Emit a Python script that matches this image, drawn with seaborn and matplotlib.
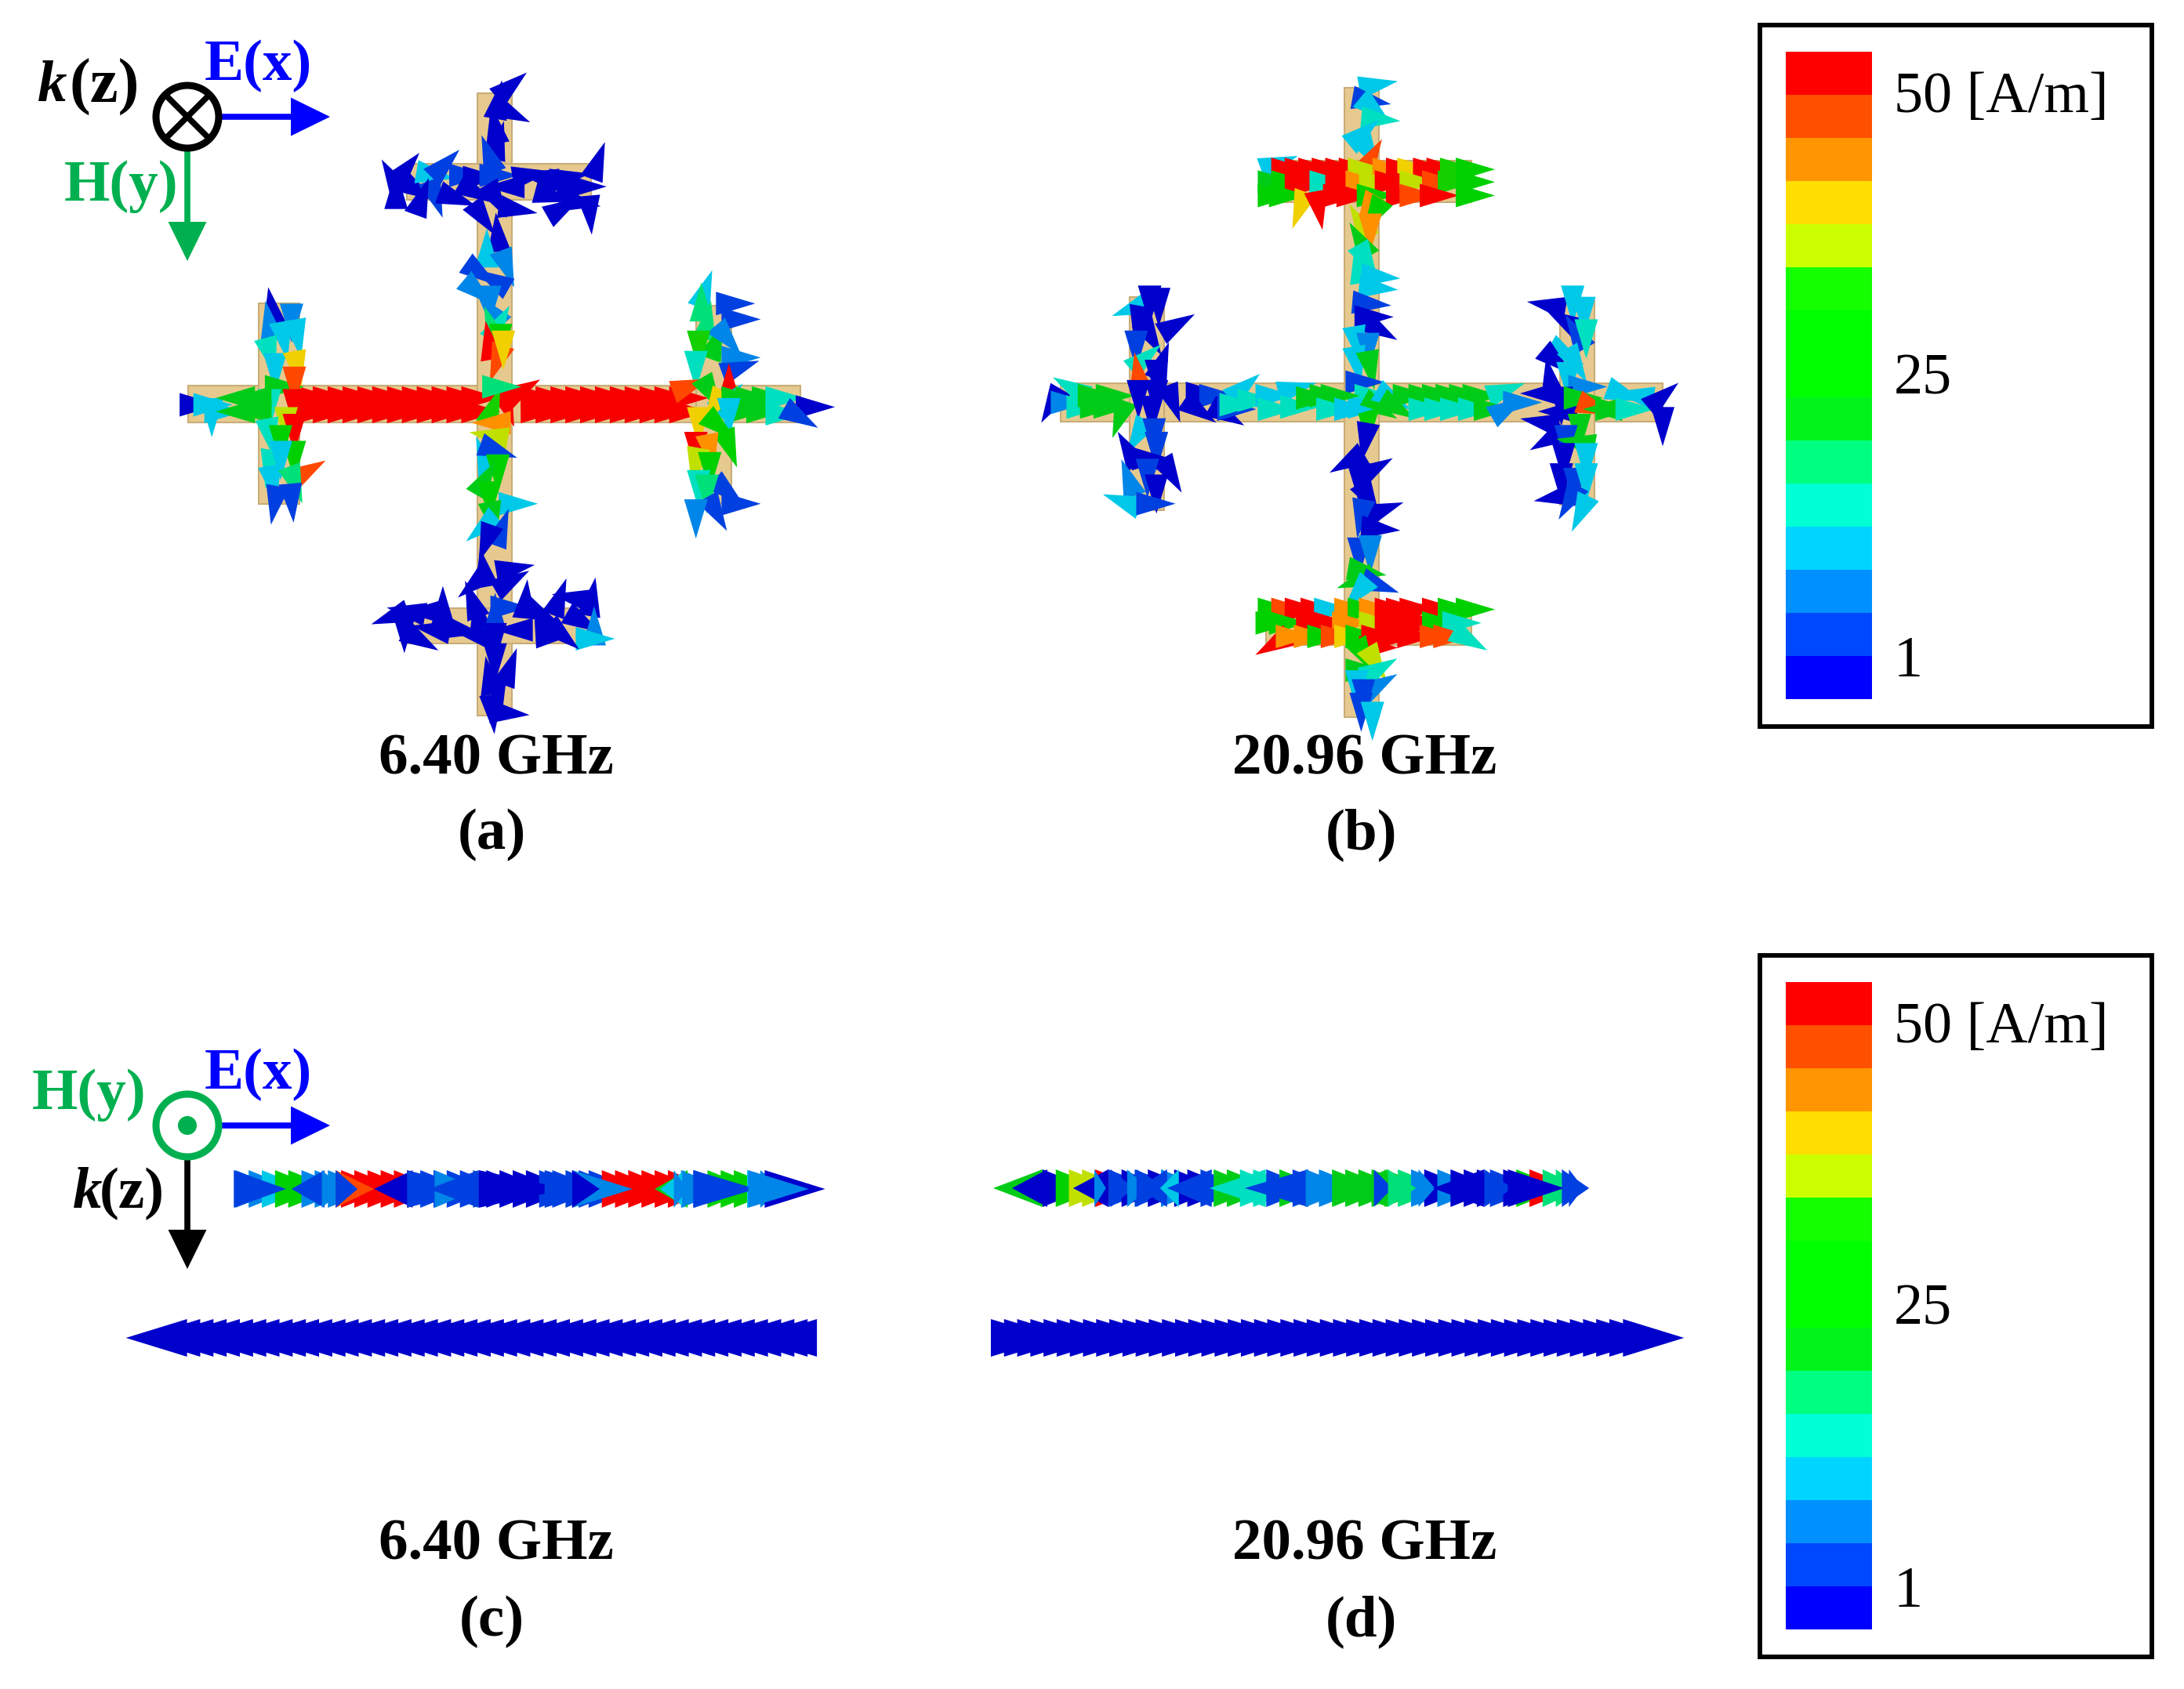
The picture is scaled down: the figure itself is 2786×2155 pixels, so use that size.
import numpy as np
import matplotlib
matplotlib.use("Agg")
import matplotlib.pyplot as plt
from matplotlib.collections import PolyCollection
from matplotlib.colors import ListedColormap, BoundaryNorm
from matplotlib.patches import Rectangle, Circle, Polygon
import seaborn as sns

sns.set_theme(style="white")
plt.rcParams["font.family"] = ["Liberation Serif", "DejaVu Serif"]

# ---------- colour scale (bottom to top) ----------
band_colors = ["#0000ff", "#0048ff", "#0090ff", "#00d5ff", "#00ffd5", "#00ff80", "#00f41a", "#00ff00",
               "#00ff00", "#14ff00", "#ccff00", "#ffdd00", "#ff9500", "#ff5000", "#ff0000"]
arrow_colors = ["#0000cc", "#0040e0", "#0085e8", "#00c8e8", "#00e0c0", "#00e078", "#00cc18", "#00d000",
                "#00d000", "#14d000", "#c0e000", "#f0d000", "#ff9000", "#ff4800", "#f80000"]
band_edges = [0, 3.33, 6.67, 10, 13.33, 16.67, 20, 23.33, 26.67, 30, 33.33, 36.67, 40, 43.33, 46.67, 50]
scale_values = list(range(14, -1, -1))
scale_labels = ["50 [A/m]", "25", "1"]

# ---------- metal cross outlines (x0, x1, y0, y1) ----------
cross_a = [(240, 1021, 492, 539), (609, 653, 119, 913), (519, 754, 209, 255),
           (512, 758, 776, 821), (330, 382, 387, 643), (888, 933, 390, 643)]
cross_b = [(1353, 2121, 489, 538), (1715, 1759, 112, 915), (1615, 1877, 205, 258),
           (1615, 1877, 771, 823), (1441, 1485, 379, 651), (1990, 2034, 384, 644)]

# ---------- panel (a): surface-current arrows ----------
a_row_x = [570, 597, 624, 651, 678, 705, 732, 759, 786, 813, 840, 867, 975, 1002, 1029, 1056, 1083, 1110, 1137, 1164, 1191, 1218, 1245]
a_row1_y = [815] * 23
a_row2_y = [845] * 23
a_x = [925, 905, 925, 900, 905, 890, 715, 735, 720, 755, 785, 805, 790, 765, 825, 845, 870, 860, 900, 925, 900, 935, 960, 985, 1000, 1040, 1050, 1085, 1030, 1060, 1072, 1020, 875,
       905, 885, 920, 870, 900, 865, 890, 895, 905, 895, 910, 890, 905, 915, 945, 920, 895, 900, 895, 905,
       880, 900, 905, 880, 890, 935, 895, 880, 910, 885, 880, 930, 925, 865, 860,
       715, 745, 775, 805, 735, 760, 790, 835, 870, 900, 920, 955, 985, 1015, 1045, 1075, 1055, 1080, 1075, 1020, 985, 940, 900, 870,
       900, 925, 890, 905, 920, 895,
       495, 530, 490, 515, 540, 490, 500, 540, 510, 535, 490, 535, 355, 380, 385, 400, 435, 435, 465, 465, 520, 535, 490, 510, 535, 490, 510, 555, 495, 535, 500, 530,
       1280, 1330, 1275, 1340, 1285, 1300, 1320, 1340, 1270, 1340, 1265, 1250, 1325, 1320, 1290, 1300, 1340, 1365, 1395, 1420, 1475, 1350, 1385, 1420, 1450,
       1325, 1270, 1305, 1325, 1265, 1290, 1265, 1290, 1270, 1320, 1285, 1340, 1300, 1265]
a_y = [125, 160, 180, 215, 250, 280, 330, 310, 360, 350, 318, 300, 365, 375, 370, 320, 325, 355, 320, 345, 370, 395, 320, 325, 365, 350, 380, 295, 325, 345, 400, 395, 410,
       455, 490, 520, 535, 555, 575, 600, 625, 655, 660, 685, 695, 730, 700, 800, 830, 840, 870, 900, 790,
       950, 930, 975, 1000, 1035, 1050, 1080, 1100, 1110, 1130, 1200, 1195, 1225, 1225, 1270,
       1300, 1290, 1290, 1285, 1330, 1350, 1330, 1330, 1300, 1300, 1280, 1270, 1300, 1265, 1260, 1265, 1310, 1330, 1350, 1340, 1330, 1330, 1350, 1345,
       1395, 1420, 1440, 1470, 1515, 1510,
       620, 640, 650, 680, 675, 715, 750, 745, 790, 780, 830, 830, 830, 830, 850, 845, 815, 845, 815, 845, 870, 885, 895, 910, 945, 965, 945, 980, 1000, 1000, 1045, 1040,
       580, 605, 610, 640, 650, 695, 680, 725, 700, 750, 745, 790, 790, 820, 800, 830, 815, 815, 815, 815, 835, 845, 845, 850, 855,
       850, 870, 875, 920, 925, 930, 960, 970, 1010, 1020, 1020, 1050, 1065, 1075]
a_ang = [40, 80, -25, 100, 75, 110, 120, 50, 90, -30, -10, 45, -70, 70, -20, 0, 0, -30, 0, 180, -60, -10, 10, 170, -15, 10, -10, 70, 10, 0, -85, 30, -55,
         95, 90, -70, -35, 150, -40, -90, 130, 60, 110, -90, 100, -110, -90, 30, -70, 70, 180, 170, 0,
         110, -20, -90, 60, -90, 0, -80, 220, 70, -110, 100, 10, 30, 220, 110,
         200, 170, 180, 90, -90, -30, 170, -10, 100, 90, 0, 85, 120, 70, 170, 80, -30, 90, 0, -40, 110, 180, -90, 170,
         -90, 70, 100, -80, -5, -85,
         100, -90, 100, -80, -80, -75, -90, -80, 0, -90, -90, -90, 0, 0, -90, 0, 180, 180, 180, 180, -90, -90, -80, -90, -90, -100, -90, 30, -80, -70, -100, -85,
         70, 0, 90, 0, 80, 70, -50, 0, -90, 20, -90, 20, 90, 45, -60, -120, 0, 0, 0, 0, 0, 0, 0, 0, -30,
         -90, -90, -40, -70, -90, -80, -100, -90, -90, -40, -90, 0, -60, -90]
a_val = [2, 3, 2, 3, 3, 4, 2, 3, 3, 3, 12, 5, 5, 3, 2, 4, 3, 2, 4, 2, 2, 3, 3, 3, 2, 3, 3, 2, 3, 2, 2, 2, 2,
         3, 10, 7, 6, 6, 7, 7, 9, 14, 18, 28, 48, 45, 38, 50, 48, 33, 42, 36, 18,
         12, 5, 24, 23, 25, 12, 20, 13, 4, 3, 2, 3, 3, 3, 2,
         2, 3, 2, 3, 3, 3, 3, 3, 3, 4, 4, 3, 2, 3, 2, 2, 3, 8, 12, 2, 3, 3, 3, 3,
         3, 2, 3, 3, 2, 2,
         3, 8, 9, 10, 10, 14, 12, 39, 21, 46, 16, 50, 1, 12, 10, 12, 22, 22, 22, 22, 34, 48, 16, 24, 24, 15, 13, 46, 12, 17, 6, 6,
         13, 5, 19, 5, 17, 22, 7, 7, 32, 6, 16, 46, 48, 12, 23, 38, 22, 22, 23, 15, 2, 22, 21, 15, 6,
         12, 38, 28, 24, 48, 41, 35, 24, 15, 6, 19, 5, 5, 7]

# ---------- panel (b): surface-current arrows ----------
b_x = [825, 810, 820, 830, 795, 810, 815,
       605, 630, 660, 690, 720, 750, 780, 800, 855, 885, 910, 945, 975, 1005, 1040,
       600, 630, 660, 690, 715, 750, 795, 825, 860, 890, 915, 965, 1000, 1040,
       600, 625, 660, 700, 745, 775, 820, 885, 915, 960, 1040,
       810, 825, 795, 815, 795, 805, 790, 830, 825, 810, 815, 830, 785, 810, 785, 815, 795,
       815, 800, 830, 810,
       110, 140, 175, 205, 235, 155, 200, 240, 260,
       440, 470, 430, 490, 510, 530, 515, 555, 595, 600, 645, 650, 685, 715, 740, 730, 770,
       290, 325, 300, 345, 325, 380, 295, 310, 350, 300, 340, 300, 340, 375, 330, 300, 335, 340, 280, 320, 370, 280, 320, 340, 270, 330,
       860, 900, 935, 965, 995, 1025, 1055, 1110, 870, 935, 970, 1005, 1045, 1080, 1115, 1145,
       1215, 1265, 1250, 1290, 1275, 1295, 1245, 1225, 1270, 1255, 1200, 1215, 1290, 1240, 1200, 1240, 1280, 1310, 1340, 1280, 1215, 1250, 1280, 1245, 1295, 1240, 1270, 1295, 1230, 1260, 1285,
       1375, 1410, 1350, 1395, 1460, 1465,
       805, 770, 820, 790, 810, 840, 795, 830, 790, 815, 800, 790, 830, 790,
       600, 630, 660, 695, 725, 770, 800, 825, 860, 885, 915, 965, 1000, 1040,
       595, 625, 685, 720, 765, 825, 860, 890, 930, 965, 1010,
       605, 640, 680, 710, 740, 770, 795, 830, 870, 910, 960, 990, 1030,
       825, 800, 825, 795, 830, 785, 830, 800, 795, 820]
b_y = [85, 118, 135, 160, 195, 230, 250,
       260, 272, 272, 272, 272, 272, 272, 272, 272, 272, 272, 272, 272, 272, 272,
       300, 300, 300, 300, 300, 300, 300, 300, 300, 300, 300, 300, 300, 300,
       330, 330, 355, 355, 330, 330, 330, 330, 330, 330, 330,
       360, 370, 395, 405, 435, 470, 490, 510, 535, 570, 600, 625, 655, 670, 700, 710, 745,
       775, 800, 800, 835,
       790, 790, 800, 800, 800, 760, 775, 775, 820,
       770, 775, 805, 815, 805, 760, 795, 785, 775, 805, 760, 800, 780, 775, 775, 805, 805,
       580, 565, 610, 570, 640, 620, 665, 695, 705, 730, 730, 775, 775, 785, 810, 860, 860, 890, 900, 915, 945, 965, 950, 985, 1012, 1015,
       780, 775, 775, 775, 775, 775, 775, 765, 800, 805, 805, 805, 805, 805, 805, 790,
       575, 565, 610, 590, 640, 640, 680, 695, 700, 735, 770, 740, 755, 790, 835, 810, 780, 800, 805, 850, 870, 875, 880, 915, 915, 960, 970, 960, 1000, 1005, 1030,
       770, 775, 805, 805, 780, 835,
       870, 920, 940, 960, 1000, 1030, 1040, 1070, 1125, 1120, 1165, 1185, 1195, 1210,
       1250, 1250, 1250, 1250, 1250, 1250, 1250, 1250, 1250, 1250, 1250, 1250, 1250, 1250,
       1280, 1280, 1280, 1280, 1280, 1280, 1280, 1280, 1280, 1280, 1280,
       1325, 1310, 1310, 1310, 1310, 1310, 1310, 1310, 1310, 1310, 1310, 1310, 1315,
       1335, 1350, 1365, 1385, 1385, 1420, 1420, 1440, 1470, 1490]
b_ang = [10, -10, -40, -5, 40, -60, 60,
         20, 0, 0, 0, 0, 0, 0, 0, 0, 0, 0, 0, 0, 0, 0,
         0, 0, 0, 0, 0, 0, 0, 0, 0, 0, 0, 0, 0, 0,
         0, 0, -110, -80, 0, 0, 0, 0, 0, 0, 0,
         240, -120, 120, -90, 120, -60, 100, -5, -5, -5, 0, -30, -80, -90, -80, -80, 0,
         0, 0, -30, -90,
         -120, 0, 0, 0, 0, 150, 0, 0, -110,
         0, 0, -35, -30, 0, 40, 0, 0, 0, 0, 15, 0, 0, 0, 0, 0, 0,
         200, -90, -100, -90, -60, 30, -90, 40, 70, 100, -90, -90, -90, -70, -90, -120, -90, -90, 120, 0, -60, 110, -90, -90, 160, 0,
         -30, 0, 0, 0, 0, 0, 0, 20, -30, 0, 0, 0, 0, 0, 30, 0,
         170, -90, 150, -90, 120, -90, -30, -40, -60, -90, 180, 100, 0, -90, 170, 180, 0, -20, 180, -90, 210, -90, 170, -90, -90, -90, -90, -90, 190, -120, -115,
         -20, 170, 0, 0, 40, -90,
         -100, 210, 30, -90, -60, 20, -100, -5, -90, -90, -10, -160, -20, -130,
         0, 0, 0, 0, 0, 0, 0, 0, 0, 0, 0, 0, 0, 0,
         0, 0, 0, 0, 0, 0, 0, 0, 0, 0, 0,
         210, 0, 0, 0, 0, 0, 0, 0, 0, 0, 0, 0, -30,
         0, -60, -60, 0, 30, -90, 30, -90, -90, -90]
b_val = [12, 4, 12, 15, 11, 11, 44,
         11, 50, 50, 50, 50, 50, 48, 35, 43, 50, 38, 50, 48, 31, 25,
         22, 26, 50, 50, 15, 50, 42, 36, 50, 50, 35, 44, 30, 25,
         24, 28, 37, 50, 50, 50, 28, 50, 45, 48, 24,
         41, 25, 35, 40, 22, 14, 14, 13, 10, 5, 3, 3, 11, 7, 12, 23, 5,
         14, 11, 22, 24,
         1, 8, 15, 22, 23, 14, 22, 23, 23,
         2, 4, 2, 2, 5, 13, 14, 14, 11, 14, 13, 15, 22, 20, 21, 15, 13,
         12, 2, 3, 3, 1, 3, 6, 15, 3, 45, 3, 3, 2, 1, 3, 13, 5, 5, 3, 3, 2, 8, 4, 3, 13, 6,
         13, 23, 22, 22, 22, 21, 22, 14, 22, 14, 15, 15, 14, 22, 8, 7,
         2, 11, 3, 12, 4, 16, 12, 3, 10, 10, 3, 3, 9, 3, 3, 3, 22, 46, 22, 22, 2, 4, 23, 3, 12, 2, 6, 13, 2, 5, 13,
         13, 10, 21, 14, 3, 2,
         3, 2, 3, 2, 3, 3, 6, 3, 6, 9, 23, 22, 4, 12,
         24, 44, 50, 48, 11, 42, 25, 43, 50, 50, 50, 48, 24, 24,
         24, 28, 47, 50, 42, 34, 50, 50, 50, 24, 15,
         47, 43, 43, 24, 46, 38, 24, 50, 50, 50, 44, 44, 15,
         47, 25, 34, 22, 14, 12, 9, 4, 5, 12]

# ---------- panels (c), (d): edge-on views, teeth then long arrows ----------
c_top_x = [428, 452, 476, 500, 524, 548, 572, 596, 620, 644, 668, 692, 716, 740, 764, 788, 812, 836, 860, 884, 908, 932, 956, 980, 1004, 1028, 1052, 1070, 1094, 1118, 1142, 1166, 1190, 1214, 1238, 1262, 1286, 1310, 1334, 1358, 1382]
c_top_v = [8, 9, 11, 24, 24, 8, 7, 8, 50, 50, 50, 50, 50, 50, 5, 5, 5, 5, 4, 3, 3, 3, 3, 4, 4, 5, 5, 4, 50, 50, 50, 50, 50, 50, 8, 6, 24, 24, 24, 12, 8]
c_over_base = [425, 590, 585, 610, 610, 750, 740, 790, 870, 870, 990, 1040, 1040, 1250, 1245, 1225, 1240, 1260, 1390, 1360]
c_over_tip = [520, 530, 625, 680, 650, 680, 870, 870, 1030, 780, 1100, 1150, 1090, 1190, 1200, 1250, 1290, 1375, 1500, 1470]
c_over_val = [5, 6, 8, 44, 5, 3, 6, 8, 1, 5, 6, 9, 2, 22, 10, 9, 9, 5, 1, 7]

c_low_x = [340, 364, 388, 412, 436, 460, 484, 508, 532, 556, 580, 604, 628, 652, 676, 700, 724, 748, 772, 796, 820, 844, 868, 892, 916, 940, 964, 988, 1012, 1036, 1060, 1084, 1108, 1132, 1156, 1180, 1204, 1228, 1252, 1276, 1300, 1324, 1348, 1372, 1396, 1420, 1444, 1468, 1485]
c_low_v = [1] * 49

d_top_x = [150, 178, 206, 234, 262, 290, 318, 346, 374, 402, 430, 458, 486, 514, 542, 570, 598, 626, 654, 682, 710, 738, 766, 794, 822, 850, 878, 906, 934, 962, 990, 1018, 1046, 1074, 1102, 1130, 1158, 1186, 1214, 1242, 1270]
d_top_v = [3, 24, 35, 35, 48, 5, 3, 5, 3, 9, 2, 3, 4, 22, 22, 14, 14, 5, 22, 6, 8, 8, 22, 22, 22, 22, 20, 17, 8, 3, 9, 3, 3, 3, 5, 3, 24, 50, 18, 19, 5]
d_over_base = [150, 160, 290, 260, 295, 330, 350, 415, 440, 510, 625, 715, 710, 885, 855, 885, 950, 1090, 1090, 1140, 1255]
d_over_tip = [45, 85, 215, 285, 345, 375, 415, 355, 400, 415, 505, 580, 760, 775, 895, 945, 985, 980, 1150, 1260, 1313]
d_over_val = [22, 1, 2, 8, 5, 7, 5, 5, 10, 5, 14, 4, 9, 23, 6, 17, 9, 2, 6, 2, 5]

d_low_x = [40, 68, 96, 124, 152, 180, 208, 236, 264, 292, 320, 348, 376, 404, 432, 460, 488, 516, 544, 572, 600, 628, 656, 684, 712, 740, 768, 796, 824, 852, 880, 908, 936, 964, 992, 1020, 1048, 1076, 1104, 1132, 1160, 1188, 1216, 1244, 1272, 1300, 1328, 1356, 1385]
d_low_v = [1] * 49

# ---------- labels ----------
freq_labels = ["6.40 GHz", "20.96 GHz"]
panel_labels = ["(a)", "(b)", "(c)", "(d)"]

# ---------- drawing ----------
W, H = 2786, 2155
fig = plt.figure(figsize=(W / 100, H / 100), dpi=100, facecolor="white")
ax = fig.add_axes([0, 0, 1, 1])
ax.set_xlim(0, W)
ax.set_ylim(H, 0)
ax.axis("off")

cmap = ListedColormap(arrow_colors)
norm = BoundaryNorm(band_edges, cmap.N)
TAN = "#e6c98f"
FS = 54


def arrows(x, y, ang, val, length=50, base=30, z=3):
    x, y, t, val = map(np.asarray, (x, y, np.radians(ang), val))
    ux, uy = np.cos(t), -np.sin(t)
    nx, ny = -uy, ux
    tip = np.c_[x + ux * length * 0.6, y + uy * length * 0.6]
    p1 = np.c_[x - ux * length * 0.4 + nx * base / 2, y - uy * length * 0.4 + ny * base / 2]
    p2 = np.c_[x - ux * length * 0.4 - nx * base / 2, y - uy * length * 0.4 - ny * base / 2]
    ax.add_collection(PolyCollection(np.stack([tip, p1, p2], axis=1), array=val, cmap=cmap, norm=norm,
                                     edgecolors="none", zorder=z))


def strip(b, tip, val, yc, half=24, z=3):
    b, tip, val = map(np.asarray, (b, tip, val))
    polys = np.stack([np.c_[b, np.full(b.shape, yc - half)], np.c_[tip, np.full(b.shape, yc)],
                      np.c_[b, np.full(b.shape, yc + half)]], axis=1)
    ax.add_collection(PolyCollection(polys, array=val, cmap=cmap, norm=norm, edgecolors="none", zorder=z))


for (x0, x1, y0, y1) in cross_a + cross_b:
    ax.add_patch(Rectangle((x0, y0), x1 - x0, y1 - y0, fc=TAN, ec="#c8ad78", lw=1.5, zorder=1))

# panel a
sa, sy = 1 / 1.425, 1 / 1.742
for row_y in (a_row1_y, a_row2_y):
    arrows(np.array(a_row_x) * sa, 40 + np.array(row_y) * sy, [0] * len(a_row_x), [50] * len(a_row_x))
arrows(np.array(a_x) * sa, 40 + np.array(a_y) * sy, a_ang, a_val)
# panel b
arrows(1280 + np.array(b_x) / 1.742, 60 + np.array(b_y) / 1.742, b_ang, b_val)

# panel c
sc = 1 / 1.425
xs = np.array(c_top_x) * sc
strip(xs, np.minimum(xs + 60, 1000), c_top_v, 1517)
strip(np.array(c_over_base) * sc, np.array(c_over_tip) * sc, c_over_val, 1517, z=4)
xs = np.array(c_low_x) * sc
strip(xs, xs - 78, c_low_v, 1707)

# panel d
sd = 1 / 1.668
xs = 1240 + np.array(d_top_x) * sd
strip(xs, np.minimum(xs + 60, 2020), d_top_v, 1516)
strip(1240 + np.array(d_over_base) * sd, 1240 + np.array(d_over_tip) * sd, d_over_val, 1516, z=4)
xs = 1240 + np.array(d_low_x) * sd
strip(xs, xs + 78, d_low_v, 1707)

# colour-scale legends
for dy in (0, 1187):
    ax.add_patch(Rectangle((2245, 32 + dy), 500, 895, fc="white", ec="black", lw=4.2, zorder=2))
    cax = fig.add_axes([2278 / W, 1 - (892 + dy) / H, 110 / W, 826 / H])
    sns.heatmap(np.array(scale_values).reshape(-1, 1), ax=cax, cmap=ListedColormap(band_colors), vmin=0, vmax=14,
                cbar=False, xticklabels=False, yticklabels=False, linewidths=0)
    for txt, tx, ty in zip(scale_labels, (2416, 2416, 2415), (125, 485, 845)):
        ax.text(tx, ty + dy, txt, fontsize=FS - 0.6, color="black", ha="left", va="center", zorder=5)

# frequency and panel captions
for cy, py, (pl, pr) in ((970, 1065, panel_labels[:2]), (1972, 2069, panel_labels[2:])):
    ax.text(633, cy, freq_labels[0], fontsize=FS, fontweight="bold", ha="center", va="center", color="black")
    ax.text(1741, cy, freq_labels[1], fontsize=FS, fontweight="bold", ha="center", va="center", color="black")
    ax.text(627, py, pl, fontsize=FS, fontweight="bold", ha="center", va="center", color="black")
    ax.text(1736, py, pr, fontsize=FS, fontweight="bold", ha="center", va="center", color="black")


def axis_arrow(x0, y0, x1, y1, color):
    d = np.array([x1 - x0, y1 - y0], float)
    d /= np.hypot(*d)
    n = np.array([-d[1], d[0]])
    tip = np.array([x1, y1])
    b = tip - d * 50
    ax.plot([x0, b[0]], [y0, b[1]], color=color, lw=5.5, solid_capstyle="butt", zorder=5)
    ax.add_patch(Polygon([tip, b + n * 24.5, b - n * 24.5], fc=color, ec="none", zorder=5))


BLUE, GREEN = "#0000ff", "#00b050"
# triad a
axis_arrow(282, 149, 421, 149, BLUE)
axis_arrow(239, 192, 239, 333, GREEN)
ax.add_patch(Circle((239, 149), 40, fc="white", ec="black", lw=6.5, zorder=6))
r = 40 * np.cos(np.pi / 4)
ax.plot([239 - r, 239 + r], [149 - r, 149 + r], color="black", lw=5.5, zorder=7)
ax.plot([239 - r, 239 + r], [149 + r, 149 - r], color="black", lw=5.5, zorder=7)
ax.text(48, 111, "k", fontsize=FS, fontweight="bold", fontstyle="italic", color="black", ha="left", va="center")
ax.text(88, 111, "(z)", fontsize=FS + 4, fontweight="bold", color="black", ha="left", va="center")
ax.text(261, 84, "E(x)", fontsize=FS, fontweight="bold", color=BLUE, ha="left", va="center")
ax.text(82, 238, "H(y)", fontsize=FS, fontweight="bold", color=GREEN, ha="left", va="center")
# triad c
axis_arrow(282, 1436, 421, 1436, BLUE)
axis_arrow(239, 1480, 239, 1619, "black")
ax.add_patch(Circle((239, 1436), 40, fc="white", ec=GREEN, lw=6.5, zorder=6))
ax.add_patch(Circle((239, 1436), 12, fc=GREEN, ec="none", zorder=7))
ax.text(93, 1523, "k", fontsize=FS, fontweight="bold", fontstyle="italic", color="black", ha="left", va="center")
ax.text(127, 1523, "(z)", fontsize=FS, fontweight="bold", color="black", ha="left", va="center")
ax.text(261, 1371, "E(x)", fontsize=FS, fontweight="bold", color=BLUE, ha="left", va="center")
ax.text(41, 1397, "H(y)", fontsize=FS, fontweight="bold", color=GREEN, ha="left", va="center")

fig.savefig("out.png", dpi=100, facecolor="white")
